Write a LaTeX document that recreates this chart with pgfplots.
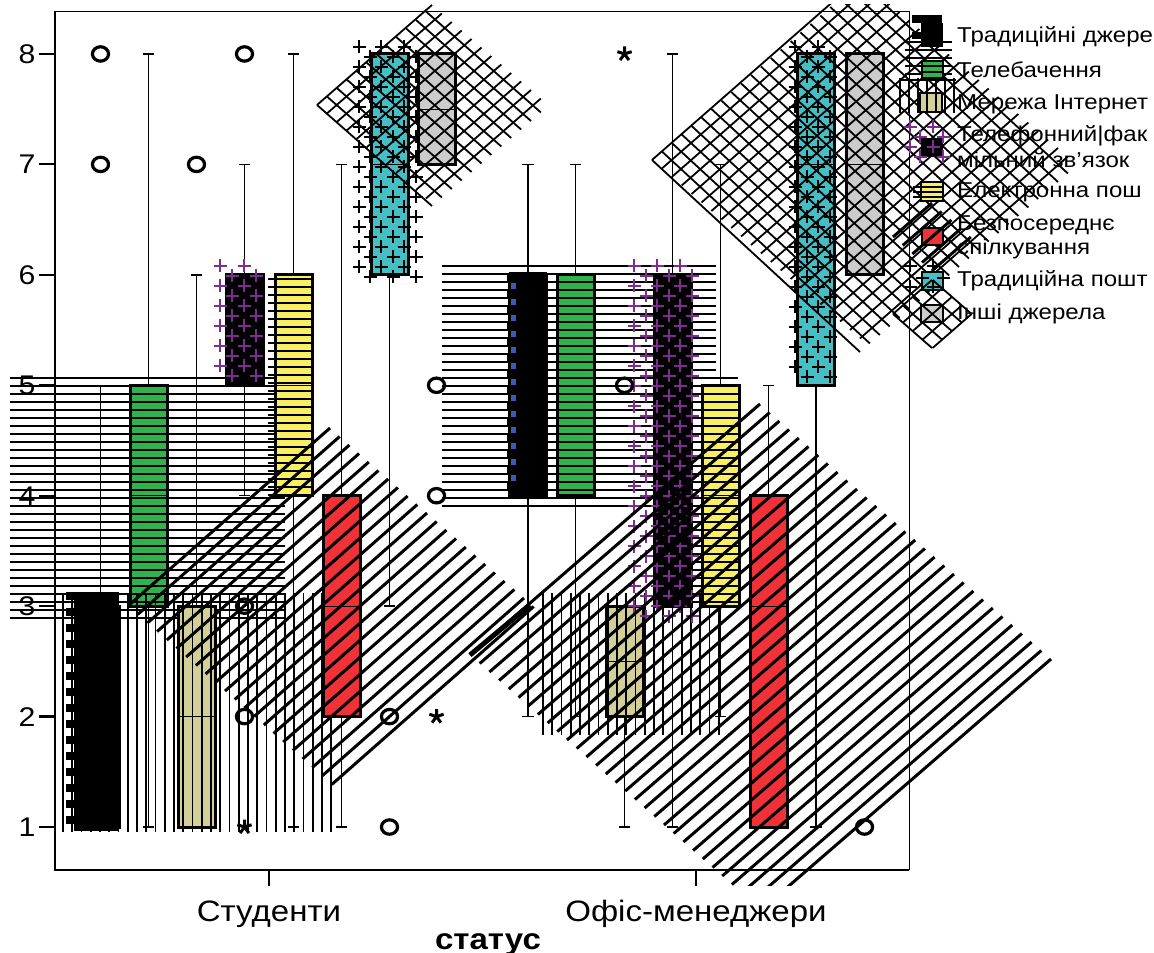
\documentclass[border=0pt]{standalone}
\usepackage{fontspec}
\setmainfont[FakeStretch=1.12]{Liberation Sans}
\usepackage{pgfplots}
\pgfplotsset{compat=1.18}

\definecolor{cgreen}{RGB}{46,180,74}
\definecolor{cbeige}{RGB}{211,207,153}
\definecolor{cpurple}{RGB}{125,45,142}
\definecolor{cyellow}{RGB}{248,240,96}
\definecolor{cred}{RGB}{240,50,56}
\definecolor{cteal}{RGB}{69,190,196}
\definecolor{cgrey}{RGB}{204,204,204}
\definecolor{cblue}{RGB}{58,91,176}

% the axis runs in picture pixels along x; hatches are given in pixels on y too
\newcommand\yv[1]{(1+(827-(#1))/110.43)}

% position, low whisker, q1, median, q3, high whisker, fill
\newcommand\bx[7]{%
  \pgfmathsetmacro\bl{#1-18.5}\pgfmathsetmacro\br{#1+18.5}%
  \pgfmathsetmacro\wl{#1-5.75}\pgfmathsetmacro\wr{#1+5.75}%
  \edef\tmp{\noexpand\addplot[black,line width=1.5pt,unbounded coords=jump] coordinates {
    (\wl,#2)(\wr,#2)(nan,nan)(#1,#2)(#1,#3)(nan,nan)(#1,#5)(#1,#6)(nan,nan)(\wl,#6)(\wr,#6)};
    \noexpand\addplot[fill=#7,draw=black,line width=3pt] coordinates {
    (\bl,#3)(\br,#3)(\br,#5)(\bl,#5)(\bl,#3)(\br,#3)};
    \noexpand\addplot[black,line width=0.9pt] coordinates {(\bl,#4)(\br,#4)};}%
  \tmp}
\newcommand\ol[1]{\addplot[only marks, mark=o, mark size=7.2pt,
  mark options={line width=3.2pt, black, xscale=1.12}] coordinates {#1};}
\newcommand\st[1]{\addplot[only marks, mark=star, mark size=7.5pt,
  mark options={line width=3pt, black}] coordinates {#1};}

% horizontal lines: x0 x1 y0 count period width
\newcommand\hh[6]{\pgfplotsextra{\begin{scope}[line width=#6pt,black]
  \foreach \k in {0,...,#4}{\pgfmathsetmacro\yy{#3+#5*\k}
    \draw (axis cs:#1,{\yv{\yy}}) -- (axis cs:#2,{\yv{\yy}});}\end{scope}}}
% vertical lines: x0 y0 y1 count period width
\newcommand\vv[6]{\pgfplotsextra{\begin{scope}[line width=#6pt,black]
  \foreach \k in {0,...,#4}{\pgfmathsetmacro\xx{#1+#5*\k}
    \draw (axis cs:\xx,{\yv{#2}}) -- (axis cs:\xx,{\yv{#3}});}\end{scope}}}
% parallel lines: x1 y1 x2 y2 dx dy count width
\newcommand\dd[8]{\foreach \k in {0,...,#7}{
    \pgfmathsetmacro\xa{#1+#5*\k}\pgfmathsetmacro\ya{#2+#6*\k}
    \pgfmathsetmacro\xb{#3+#5*\k}\pgfmathsetmacro\yb{#4+#6*\k}
    \draw[line width=#8pt,black] (axis cs:\xa,{\yv{\ya}}) -- (axis cs:\xb,{\yv{\yb}});}}
% crosses: x list, y0, count, colour
\newcommand\crs[4]{\pgfplotsextra{\begin{scope}[line width=1.8pt,#4]
  \foreach \xc in {#1}{\foreach \k in {0,...,#3}{\pgfmathsetmacro\yy{#2+20*\k}
    \draw (axis cs:{\xc-6.5},{\yv{\yy}}) -- (axis cs:{\xc+6.5},{\yv{\yy}})
          (axis cs:\xc,{\yv{\yy-6.5}}) -- (axis cs:\xc,{\yv{\yy+6.5}});}}\end{scope}}}
% rectangle in pixels: x0 y0 x1 y1, options
\newcommand\rc[5]{\path[#5] (axis cs:#1,{\yv{#2}}) rectangle (axis cs:#3,{\yv{#4}});}
\newcommand\legtext[3]{\node[anchor=west,inner sep=0pt,font=\fontsize{21.5}{24}\selectfont]
  at (axis cs:#1,{\yv{#2}}) {#3};}

\begin{document}
\begin{tikzpicture}
\path[use as bounding box] (-55pt,-83pt) rectangle (1099pt,870pt);
\begin{axis}[
  scale only axis, width=854pt, height=858pt,
  xmin=55, xmax=909, ymin=0.611, ymax=8.38,
  clip=false,
  axis line style={line width=1pt},
  xtick={269,696}, xticklabels={Студенти,Офіс-менеджери},
  ytick={1,2,3,4,5,6,7,8},
  xtick pos=bottom, ytick pos=left,
  tick align=outside, major tick length=16pt,
  tick style={line width=2.2pt,black},
  /pgf/number format/assume math mode=true,
  xticklabel style={font=\fontsize{29.5}{32}\selectfont,yshift=-11pt},
  yticklabel style={font=\fontsize{27}{30}\selectfont},
  xlabel={\textbf{статус}},
  xlabel style={font=\fontsize{29.5}{32}\selectfont,anchor=center,
    at={(axis description cs:0.507,-0.0865)}},
]
\pgfplotsextra{\draw[line width=2.8pt,black] (rel axis cs:0,1) -- (rel axis cs:0,0) -- (rel axis cs:1,0);}

% ---- Студенти ----
\bx{100.5}{3}{1}{2}{3}{5}{black}
\pgfplotsextra{\rc{74}{592}{119}{831}{fill=black}}
\hh{66}{74}{596}{14}{16}{8}
\ol{(100.5,7)(100.5,8)}

\bx{148.5}{1}{3}{4}{5}{8}{cgreen}
\hh{10}{285}{378}{30}{8}{1.8}

\bx{196.5}{1}{1}{2}{3}{6}{cbeige}
\vv{63}{593}{832}{29}{9.25}{1.7}
\ol{(196.5,7)}

\bx{244.5}{4}{5}{5.5}{6}{7}{black}
\crs{220,244}{266}{5}{cpurple}
\crs{232,256}{276}{5}{cpurple}
\ol{(244.5,8)(244.5,3)(244.5,2)}
\st{(244.5,1)}

\bx{293.5}{1}{4}{5}{6}{8}{cyellow}
\hh{268}{312}{279}{27}{8}{2.7}

\bx{341.5}{1}{2}{3}{4}{7}{cred}
\pgfplotsextra{\dd{128}{606}{330}{428}{9.7}{8.5}{21}{3}}

\bx{389.5}{3}{6}{7}{8}{8}{cteal}
\crs{359,381,404}{47}{11}{black}
\crs{370,393,416}{57}{11}{black}
\ol{(389.5,2)(389.5,1)}

\bx{436.5}{7}{7}{7.5}{8}{8}{cgrey}
\pgfplotsextra{\dd{317}{105}{432}{5}{9.9}{8.5}{11}{1.8}
  \dd{317}{105}{432}{206}{9.9}{-8.5}{11}{1.8}}
\ol{(436.5,5)(436.5,4)}
\st{(436.5,2)}

% ---- Офіс-менеджери ----
\bx{528}{2}{4}{5}{6}{7}{cblue}
\pgfplotsextra{\rc{509}{272}{547}{497}{fill=black}}
\hh{507}{510}{279}{13}{16}{8}
\pgfplotsextra{\foreach \k in {0,...,12}{\pgfmathsetmacro\yy{283+16*\k}
  \rc{511}{\yy}{516}{\yy+6}{fill=cblue}}}

\bx{575.5}{2}{4}{5}{6}{7}{cgreen}
\hh{442}{716}{266}{30}{8}{1.8}

\bx{624.5}{1}{2}{2.5}{3}{3}{cbeige}
\vv{543}{593}{735}{19}{9.25}{1.7}
\ol{(624.5,5)}
\st{(624.5,8)}

\bx{672.5}{1}{3}{4.5}{6}{8}{black}
\crs{634,657,680}{266}{17}{cpurple}
\crs{646,669,692}{276}{17}{cpurple}

\bx{720.5}{2}{3}{4}{5}{7}{cyellow}
\hh{692}{738}{378}{28}{8}{2.7}

\bx{768.5}{1}{1}{3}{4}{5}{cred}
\pgfplotsextra{\begin{scope}
  \clip (axis cs:300,{\yv{0}}) rectangle (axis cs:1154,{\yv{885}});
  \dd{470}{655}{760}{404}{9.7}{8.5}{30}{3}
  \dd{470}{655}{530}{605}{0}{0}{0}{5}
  \end{scope}}

\bx{816}{1}{5}{7}{8}{8}{cteal}
\crs{795,818}{47}{16}{black}
\crs{807,830}{57}{16}{black}

\bx{864.5}{6}{6}{7}{8}{8}{cgrey}
\pgfplotsextra{\begin{scope}
  \clip (axis cs:600,{\yv{5}}) rectangle (axis cs:1154,{\yv{400}});
  \dd{652}{160}{860}{-22}{9.9}{8.5}{21}{1.8}
  \dd{652}{160}{860}{352}{9.9}{-8.5}{21}{1.8}
  \end{scope}}
\ol{(864.5,1)}

% ---- legend ----
\pgfplotsextra{
  \rc{921}{23}{943}{47}{fill=black}
  \rc{912}{15}{942}{23}{fill=black}
  \rc{912}{32}{942}{39}{fill=black}
  \draw[line width=1.8pt] (axis cs:905,{\yv{42}}) -- (axis cs:952,{\yv{42}})
    (axis cs:905,{\yv{50}}) -- (axis cs:952,{\yv{50}});
  \draw[line width=1.8pt] (axis cs:905,{\yv{58}}) -- (axis cs:952,{\yv{58}})
    (axis cs:905,{\yv{66}}) -- (axis cs:952,{\yv{66}})
    (axis cs:905,{\yv{74}}) -- (axis cs:952,{\yv{74}});
  \rc{922}{61}{943}{78}{fill=cgreen,draw=black,line width=2.4pt}
  \draw[line width=1.8pt] (axis cs:922,{\yv{66}}) -- (axis cs:943,{\yv{66}})
    (axis cs:922,{\yv{72}}) -- (axis cs:943,{\yv{72}});
  \rc{920}{93}{942}{112}{fill=cbeige,draw=black,line width=2.4pt}
  \draw[line width=1.5pt] (axis cs:900,{\yv{80}}) -- (axis cs:956,{\yv{80}});
  \foreach \xx in {900,909,918,927,936,945,954}{
    \draw[line width=1.7pt] (axis cs:\xx,{\yv{78}}) -- (axis cs:\xx,{\yv{113}});}
  \rc{921}{138}{943}{157}{fill=black}
  \begin{scope}[line width=1.8pt,cpurple]
  \foreach \xc/\yc in {910/127,933/127,920/137,943/137,910/147,933/147,920/157,943/157}{
    \draw (axis cs:{\xc-6.5},{\yv{\yc}}) -- (axis cs:{\xc+6.5},{\yv{\yc}})
      (axis cs:\xc,{\yv{\yc-6.5}}) -- (axis cs:\xc,{\yv{\yc+6.5}});}
  \end{scope}
  \rc{921}{182}{943}{201}{fill=cyellow,draw=black,line width=2.4pt}
  \draw[line width=1.8pt] (axis cs:913,{\yv{187}}) -- (axis cs:943,{\yv{187}})
    (axis cs:913,{\yv{192}}) -- (axis cs:943,{\yv{192}})
    (axis cs:913,{\yv{197}}) -- (axis cs:943,{\yv{197}});
  \rc{922}{228}{943}{245}{fill=cred,draw=black,line width=2.4pt}
  \dd{893}{237}{932}{203}{9.7}{8.5}{4}{3}
  \rc{922}{272}{943}{290}{fill=cteal,draw=black,line width=2.4pt}
  \begin{scope}[line width=1.8pt,black]
  \foreach \xc/\yc in {910/266,933/266,922/278,943/278,910/287,933/287}{
    \draw (axis cs:{\xc-6.5},{\yv{\yc}}) -- (axis cs:{\xc+6.5},{\yv{\yc}})
      (axis cs:\xc,{\yv{\yc-6.5}}) -- (axis cs:\xc,{\yv{\yc+6.5}});}
  \end{scope}
  \rc{921}{305}{943}{322}{fill=cgrey,draw=black,line width=2.4pt}
  \dd{893}{314}{932}{280}{9.9}{8.5}{4}{1.8}
  \dd{893}{314}{932}{348}{9.9}{-8.5}{4}{1.8}
  \legtext{957}{37}{Традиційні джере}
  \legtext{957}{70}{Телебачення}
  \legtext{957}{104}{Мережа Інтернет}
  \legtext{957}{136}{Телефонний|фак}
  \legtext{957}{160}{мільний зв'язок}
  \legtext{957}{192}{Електронна пош}
  \legtext{957}{225}{Безпосереднє}
  \legtext{957}{249}{спілкування}
  \legtext{957}{281}{Традиційна пошт}
  \legtext{957}{314}{Інші джерела}
}
\end{axis}
\end{tikzpicture}
\end{document}
